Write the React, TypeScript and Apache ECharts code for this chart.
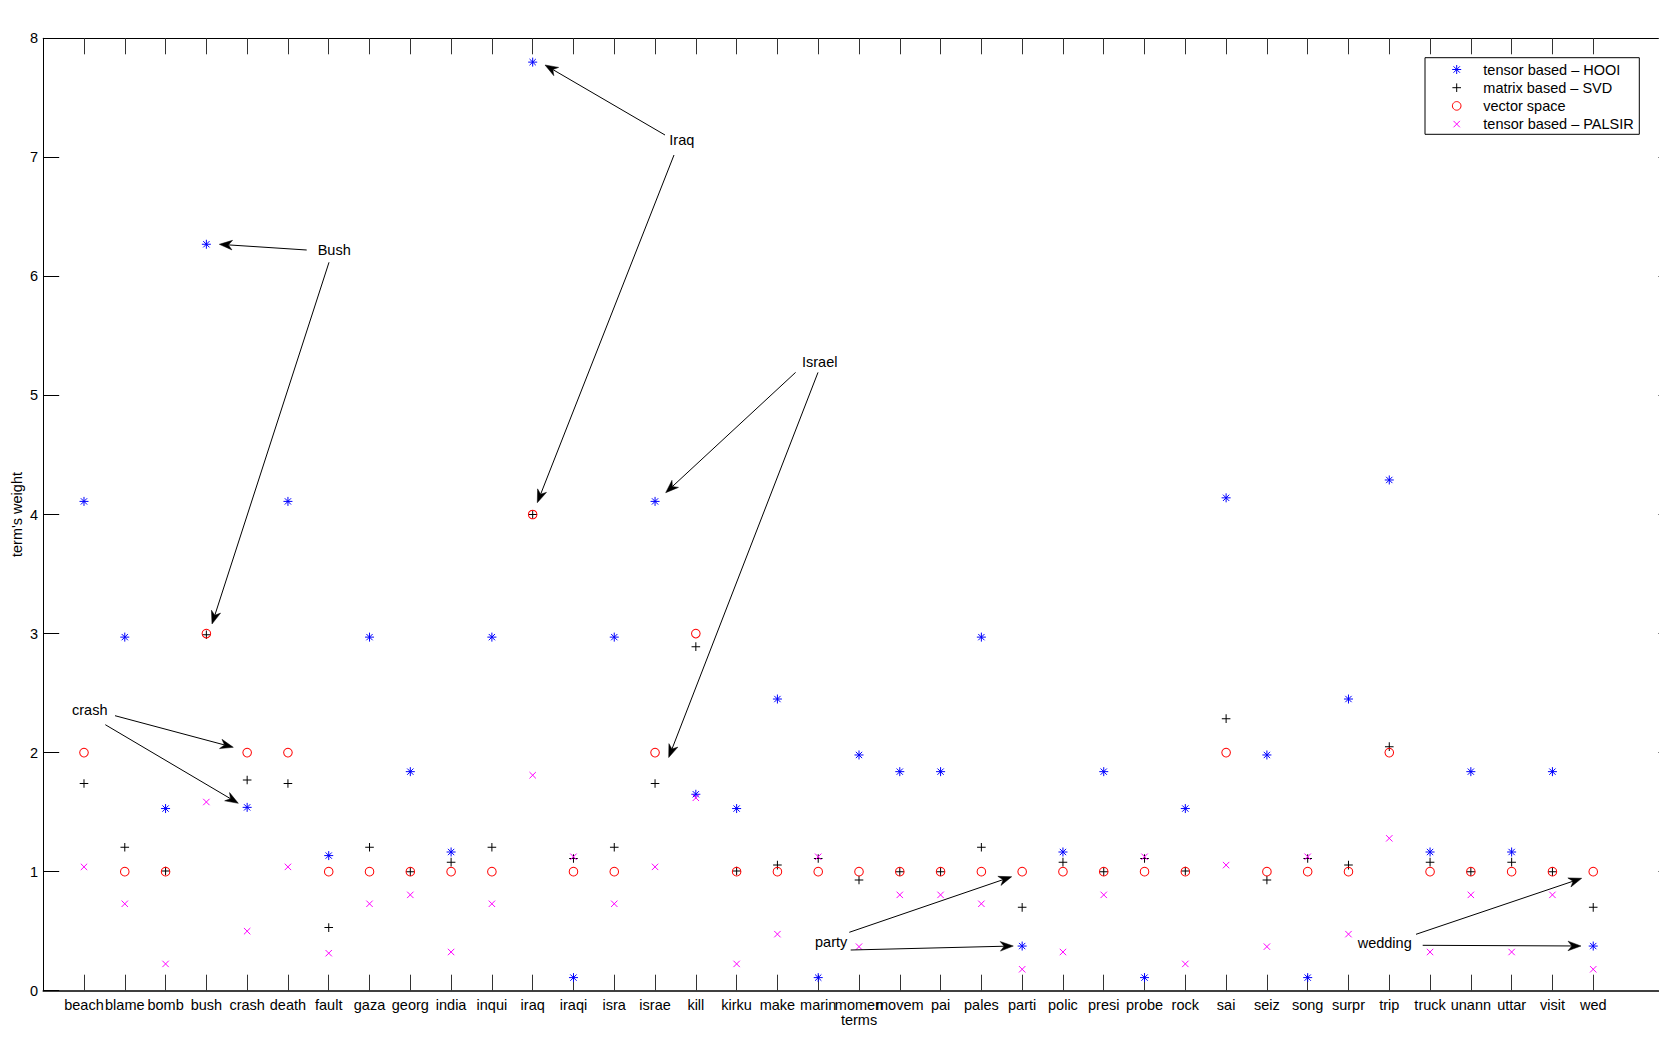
import React, { useEffect, useRef } from "react";
import * as echarts from "echarts";

// ---------- data ----------
const categories = [
  "beach", "blame", "bomb", "bush", "crash", "death", "fault", "gaza", "georg", "india",
  "inqui", "iraq", "iraqi", "isra", "israe", "kill", "kirku", "make", "marin", "momen",
  "movem", "pai", "pales", "parti", "polic", "presi", "probe", "rock", "sai", "seiz",
  "song", "surpr", "trip", "truck", "unann", "uttar", "visit", "wed",
];

const hooi = [
  4.11, 2.97, 1.53, 6.27, 1.54, 4.11, 1.135, 2.97, 1.84, 1.165,
  2.97, 7.8, 0.11, 2.97, 4.11, 1.65, 1.53, 2.45, 0.11, 1.98,
  1.84, 1.84, 2.97, 0.375, 1.165, 1.84, 0.11, 1.53, 4.14, 1.98,
  0.11, 2.45, 4.29, 1.165, 1.84, 1.165, 1.84, 0.375,
];

const svd = [
  1.74, 1.205, 1.005, 2.99, 1.77, 1.74, 0.53, 1.205, 1.0, 1.08,
  1.205, 4.0, 1.11, 1.205, 1.74, 2.89, 1.005, 1.055, 1.11, 0.93,
  1.0, 1.0, 1.205, 0.7, 1.08, 1.0, 1.11, 1.005, 2.285, 0.93,
  1.11, 1.055, 2.05, 1.08, 1.0, 1.08, 1.0, 0.7,
];

const vectorSpace = [
  2, 1, 1, 3, 2, 2, 1, 1, 1, 1,
  1, 4, 1, 1, 2, 3, 1, 1, 1, 1,
  1, 1, 1, 1, 1, 1, 1, 1, 2, 1,
  1, 1, 2, 1, 1, 1, 1, 1,
];

const palsir = [
  1.04, 0.73, 0.225, 1.585, 0.5, 1.04, 0.315, 0.73, 0.805, 0.325,
  0.73, 1.81, 1.125, 0.73, 1.04, 1.62, 0.225, 0.475, 1.125, 0.37,
  0.805, 0.805, 0.73, 0.18, 0.325, 0.805, 1.125, 0.225, 1.055, 0.37,
  1.125, 0.475, 1.28, 0.325, 0.805, 0.325, 0.805, 0.18,
];

const seriesNames = [
  "tensor based \u2013 HOOI",
  "matrix based \u2013 SVD",
  "vector space",
  "tensor based \u2013 PALSIR",
];

const yTickValues = [0, 1, 2, 3, 4, 5, 6, 7, 8];

// ---------- styling / layout ----------
const FONT = '"Liberation Sans", Arial, Helvetica, sans-serif';
const FS = 14.5;
const BLUE = "#0000ff";
const RED = "#ff0000";
const MAGENTA = "#ff00ff";
const BLACK = "#000000";

const SYM_STAR = "path://M0,-1L0,1M-1,0L1,0M-0.7,-0.7L0.7,0.7M-0.7,0.7L0.7,-0.7";
const SYM_PLUS = "path://M0,-1L0,1M-1,0L1,0";
const SYM_X = "path://M-1,-1L1,1M-1,1L1,-1";

type Pt = [number, number];
// annotation arrows in page pixels (figure annotations)
const annotations: { text: string; tx: number; ty: number; arrows: [Pt, Pt][] }[] = [
  { text: "Bush", tx: 317.7, ty: 249.5, arrows: [[[306.7, 250], [219.3, 244.3]], [[329, 262.3], [212, 624]]] },
  { text: "Iraq", tx: 669.3, ty: 139.5, arrows: [[[665, 135], [545, 65]], [[674, 155], [537.3, 502.7]]] },
  { text: "Israel", tx: 802, ty: 362, arrows: [[[795.6, 372.4], [665.7, 492.7]], [[818, 372.4], [668.7, 757.5]]] },
  { text: "crash", tx: 72, ty: 710, arrows: [[[115, 715.7], [233.3, 747.3]], [[105.3, 724.7], [238.3, 803.3]]] },
  { text: "party", tx: 815, ty: 942, arrows: [[[849.3, 932.3], [1011.7, 876.7]], [[850.7, 950], [1013.3, 946]]] },
  { text: "wedding", tx: 1357.7, ty: 943, arrows: [[[1416, 934.3], [1581.7, 878.3]], [[1422.7, 945.3], [1581, 946]]] },
];

function arrowEls(from: Pt, tip: Pt) {
  const dx = tip[0] - from[0];
  const dy = tip[1] - from[1];
  const len = Math.hypot(dx, dy);
  const ux = dx / len, uy = dy / len;
  const nx = -uy, ny = ux;
  const L = 13, W = 4.8;
  const notch: Pt = [tip[0] - ux * L * 0.7, tip[1] - uy * L * 0.7];
  const b1: Pt = [tip[0] - ux * L + nx * W, tip[1] - uy * L + ny * W];
  const b2: Pt = [tip[0] - ux * L - nx * W, tip[1] - uy * L - ny * W];
  return [
    {
      type: "line",
      shape: { x1: from[0], y1: from[1], x2: notch[0], y2: notch[1] },
      style: { stroke: BLACK, lineWidth: 1 },
      z: 10,
    },
    {
      type: "polygon",
      shape: { points: [tip, b1, notch, b2] },
      style: { fill: BLACK, stroke: BLACK, lineWidth: 0.5 },
      z: 10,
    },
  ];
}

function legendMarker(kind: number, cx: number, cy: number) {
  const line = (x1: number, y1: number, x2: number, y2: number, c: string) => ({
    type: "line",
    shape: { x1, y1, x2, y2 },
    style: { stroke: c, lineWidth: 1 },
    z: 12,
  });
  if (kind === 0) {
    const r = 4.5, d = 3.2;
    return [
      line(cx, cy - r, cx, cy + r, BLUE),
      line(cx - r, cy, cx + r, cy, BLUE),
      line(cx - d, cy - d, cx + d, cy + d, BLUE),
      line(cx - d, cy + d, cx + d, cy - d, BLUE),
    ];
  }
  if (kind === 1) {
    const r = 4.3;
    return [line(cx, cy - r, cx, cy + r, BLACK), line(cx - r, cy, cx + r, cy, BLACK)];
  }
  if (kind === 2) {
    return [
      {
        type: "circle",
        shape: { cx, cy, r: 4.3 },
        style: { fill: "none", stroke: RED, lineWidth: 1 },
        z: 12,
      },
    ];
  }
  const r = 3.2;
  return [line(cx - r, cy - r, cx + r, cy + r, MAGENTA), line(cx - r, cy + r, cx + r, cy - r, MAGENTA)];
}

export default function App() {
  const ref = useRef<HTMLDivElement>(null);

  useEffect(() => {
    if (!ref.current) return;
    const chart = echarts.init(ref.current, undefined, { renderer: "svg" });

    const ticks = categories.map((_, i) => i + 1);
    const toPairs = (arr: number[]) => arr.map((v, i) => [i + 1, v]);
    const textStyle = { fontSize: FS, fontFamily: FONT, color: BLACK };

    const graphics: any[] = [];
    // legend box
    const LX = 1425, LY = 57.7, LW = 214.3, LH = 76.6;
    graphics.push({
      type: "rect",
      shape: { x: LX, y: LY, width: LW, height: LH },
      style: { fill: "#ffffff", stroke: BLACK, lineWidth: 1 },
      z: 11,
    });
    seriesNames.forEach((name, i) => {
      const cy = 69.5 + i * 18.2;
      graphics.push(...legendMarker(i, 1456.7, cy));
      graphics.push({
        type: "text",
        style: {
          text: name,
          x: 1483.3,
          y: cy,
          fill: BLACK,
          fontSize: FS,
          fontFamily: FONT,
          verticalAlign: "middle",
          align: "left",
        },
        z: 12,
      });
    });
    // annotations
    annotations.forEach((a) => {
      graphics.push({
        type: "text",
        style: {
          text: a.text,
          x: a.tx,
          y: a.ty,
          fill: BLACK,
          fontSize: FS,
          fontFamily: FONT,
          verticalAlign: "middle",
          align: "left",
        },
        z: 10,
      });
      a.arrows.forEach(([f, t]) => graphics.push(...arrowEls(f, t)));
    });

    const strokeSeries = (name: string, data: number[], symbol: string, size: number, color: string) => ({
      type: "scatter",
      name,
      data: toPairs(data),
      xAxisIndex: 0,
      yAxisIndex: 0,
      symbol,
      symbolSize: size,
      itemStyle: { color: "none", borderColor: color, borderWidth: 1, opacity: 1 },
      emphasis: { disabled: true },
      silent: true,
    });

    chart.setOption({
      animation: false,
      backgroundColor: "#ffffff",
      grid: {
        left: 43.2,
        top: 38.3,
        width: 1631.6,
        height: 952.4,
        containLabel: false,
        outerBoundsMode: "none",
      },
      xAxis: [
        {
          type: "value",
          position: "bottom",
          min: 0,
          max: 40,
          interval: 1,
          name: "terms",
          nameLocation: "middle",
          nameGap: 21.8,
          nameMoveOverlap: false,
          nameTextStyle: textStyle,
          axisLine: { show: true, onZero: false, lineStyle: { color: BLACK, width: 1.5 } },
          axisTick: { show: true, inside: true, length: 16, customValues: ticks, lineStyle: { color: "#333", width: 1 } },
          axisLabel: {
            show: true,
            customValues: ticks,
            margin: 7,
            hideOverlap: false,
            ...textStyle,
            formatter: (v: number) => categories[Math.round(v) - 1] ?? "",
          },
          splitLine: { show: false },
        },
        {
          type: "value",
          position: "top",
          min: 0,
          max: 40,
          interval: 1,
          axisLine: { show: true, onZero: false, lineStyle: { color: BLACK, width: 1 } },
          axisTick: { show: true, inside: true, length: 16, customValues: ticks, lineStyle: { color: "#333", width: 1 } },
          axisLabel: { show: false },
          splitLine: { show: false },
        },
      ],
      yAxis: [
        {
          type: "value",
          position: "left",
          min: 0,
          max: 8,
          interval: 1,
          name: "term's weight",
          nameLocation: "middle",
          nameGap: 19.2,
          nameMoveOverlap: false,
          nameTextStyle: textStyle,
          axisLine: { show: true, onZero: false, lineStyle: { color: BLACK, width: 1 } },
          axisTick: { show: true, inside: true, length: 16, customValues: yTickValues, lineStyle: { color: BLACK, width: 1 } },
          axisLabel: { show: true, margin: 5, ...textStyle },
          splitLine: { show: false },
        },
        {
          type: "value",
          position: "right",
          min: 0,
          max: 8,
          interval: 1,
          axisLine: { show: true, onZero: false, lineStyle: { color: BLACK, width: 1 } },
          axisTick: { show: true, inside: true, length: 16.5, lineStyle: { color: "#555", width: 1 } },
          axisLabel: { show: false },
          splitLine: { show: false },
        },
      ],
      series: [
        strokeSeries(seriesNames[0], hooi, SYM_STAR, 9, BLUE),
        strokeSeries(seriesNames[1], svd, SYM_PLUS, 8.6, BLACK),
        {
          type: "scatter",
          name: seriesNames[2],
          data: toPairs(vectorSpace),
          symbol: "circle",
          symbolSize: 8.6,
          itemStyle: { color: "none", borderColor: RED, borderWidth: 1, opacity: 1 },
          emphasis: { disabled: true },
          silent: true,
        },
        strokeSeries(seriesNames[3], palsir, SYM_X, 6.4, MAGENTA),
      ],
      graphic: { elements: graphics },
    });

    return () => chart.dispose();
  }, []);

  return (
    <div
      ref={ref}
      style={{ position: "fixed", left: 0, top: 0, width: 1659, height: 1040, background: "#fff" }}
    />
  );
}
